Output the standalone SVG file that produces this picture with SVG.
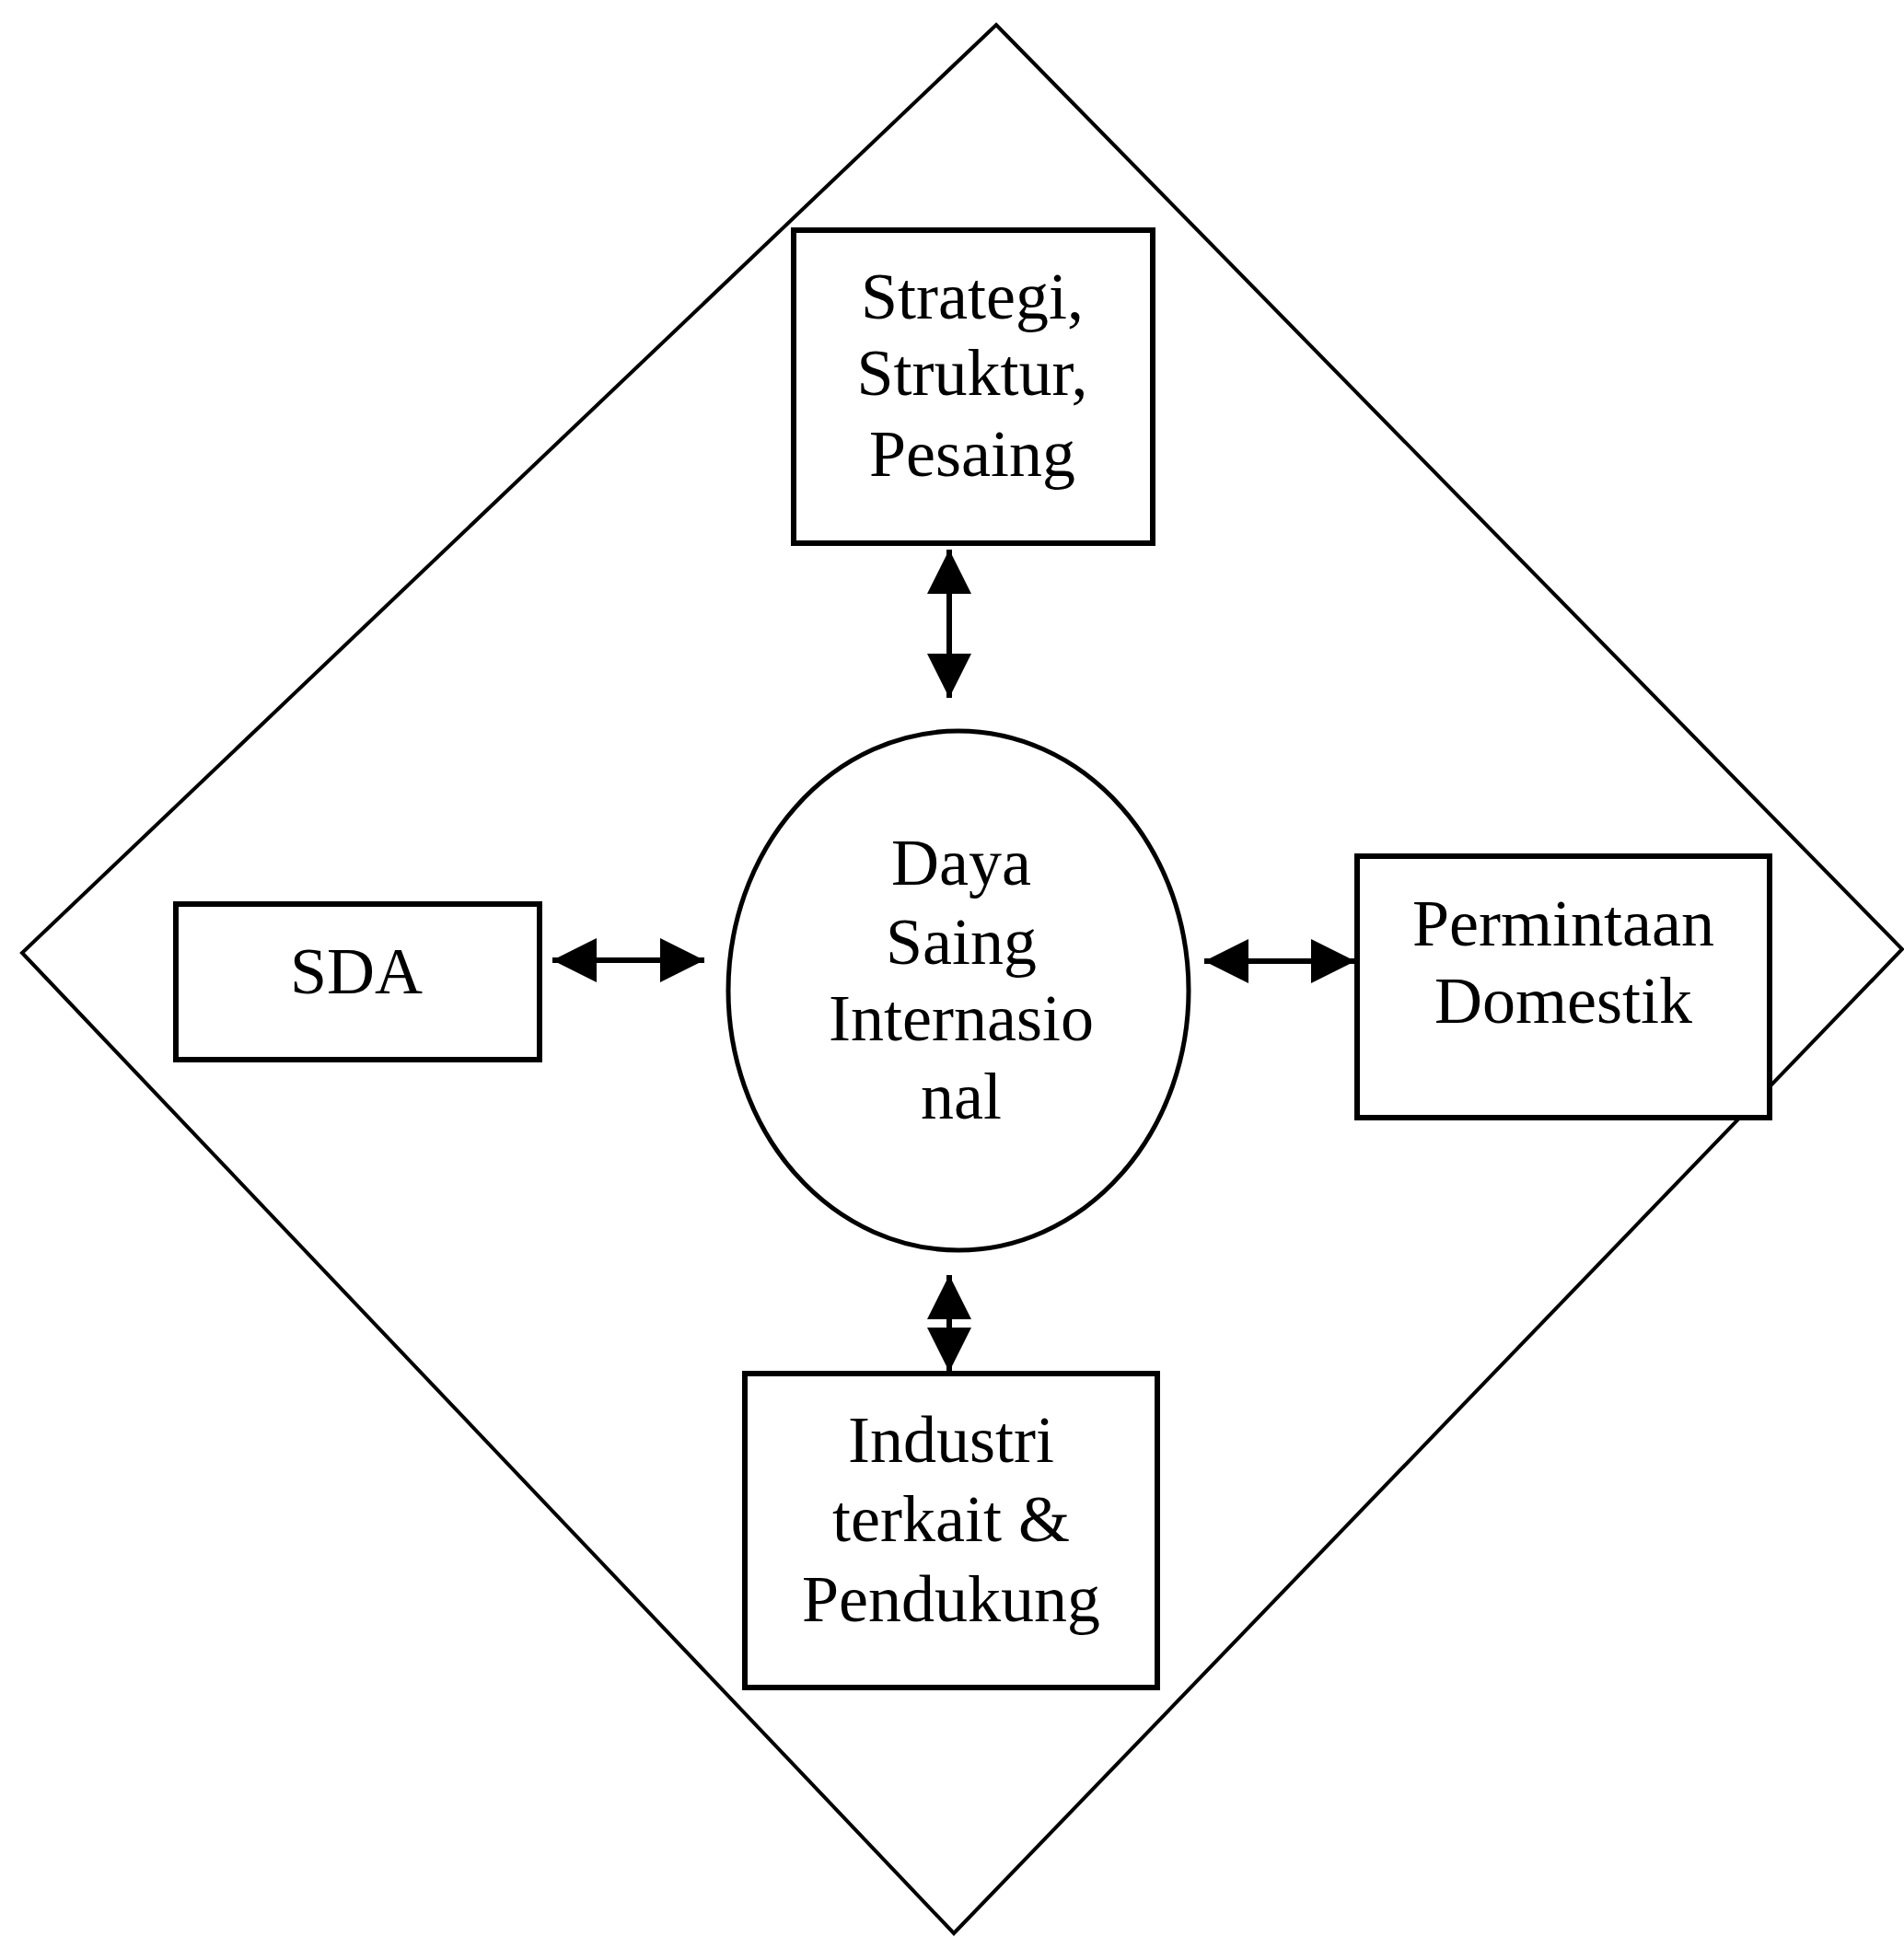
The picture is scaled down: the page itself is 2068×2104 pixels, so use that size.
<svg xmlns="http://www.w3.org/2000/svg" width="2068" height="2104" viewBox="0 0 2068 2104">
  <style>
    .box { fill: #ffffff; stroke: #000000; stroke-width: 6; }
    .frame { fill: none; stroke: #000000; stroke-width: 4; }
    .oval { fill: none; stroke: #000000; stroke-width: 5; }
    .lbl { font-family: "Liberation Serif", "Times New Roman", serif; font-size: 72px; fill: #000000; text-anchor: middle; }
    .conn { stroke: #000000; stroke-width: 6; fill: none; marker-start: url(#head); marker-end: url(#head); }
  </style>
  <defs>
    <marker id="head" viewBox="0 0 48 48" markerWidth="48" markerHeight="48" refX="48" refY="24" orient="auto-start-reverse" markerUnits="userSpaceOnUse">
      <path d="M0,0 L48,24 L0,48 Z" fill="#000000"/>
    </marker>
  </defs>
  <rect width="2068" height="2104" fill="#ffffff"/>
  <g id="diamond">
    <polygon class="frame" points="1082,27 2066,1031 1036,2100 24,1035"/>
  </g>
  <g id="connectors">
    <path class="conn" d="M1031,597 L1031,758"/>
    <path class="conn" d="M600,1043 L765,1043"/>
    <path class="conn" d="M1308,1044 L1472,1044"/>
    <path class="conn" d="M1031,1385 L1031,1490"/>
  </g>
  <g id="strategi">
    <rect class="box" x="862" y="250" width="390" height="340"/>
    <text class="lbl" x="1056" y="346">Strategi,</text>
    <text class="lbl" x="1056" y="429">Struktur,</text>
    <text class="lbl" x="1056" y="517">Pesaing</text>
  </g>
  <g id="sda">
    <rect class="box" x="191" y="982" width="395" height="169"/>
    <text class="lbl" x="387" y="1079">SDA</text>
  </g>
  <g id="daya-saing">
    <ellipse class="oval" cx="1041" cy="1076" rx="250" ry="282"/>
    <text class="lbl" x="1044" y="961">Daya</text>
    <text class="lbl" x="1044" y="1047">Saing</text>
    <text class="lbl" x="1044" y="1130">Internasio</text>
    <text class="lbl" x="1044" y="1215">nal</text>
  </g>
  <g id="permintaan">
    <rect class="box" x="1474" y="930" width="448" height="284"/>
    <text class="lbl" x="1698" y="1027">Permintaan</text>
    <text class="lbl" x="1698" y="1111">Domestik</text>
  </g>
  <g id="industri">
    <rect class="box" x="809" y="1492" width="448" height="341"/>
    <text class="lbl" x="1033" y="1588">Industri</text>
    <text class="lbl" x="1033" y="1674">terkait &amp;</text>
    <text class="lbl" x="1033" y="1761">Pendukung</text>
  </g>
</svg>
